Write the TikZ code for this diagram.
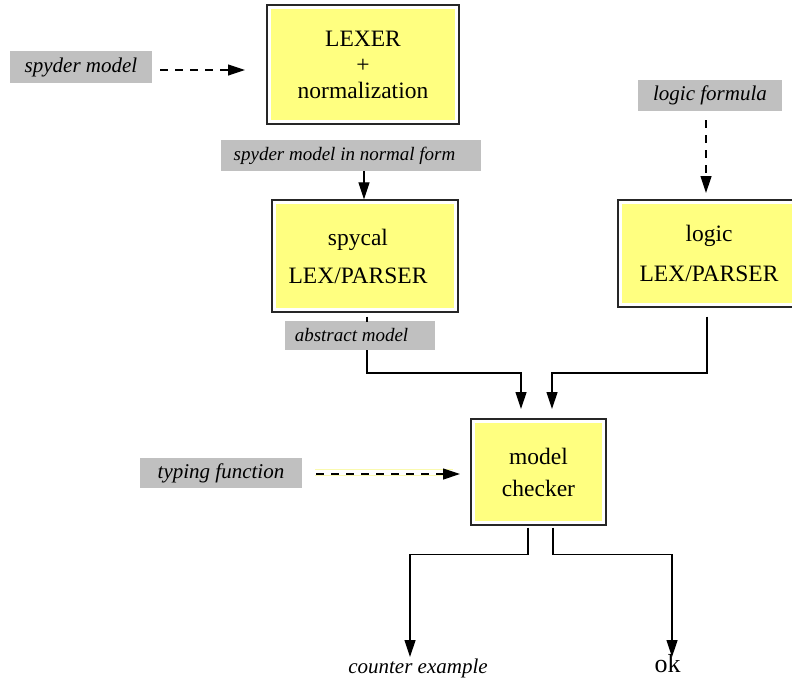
\documentclass[tikz,border=0pt]{standalone}
\usepackage{fontspec}
\setmainfont{Liberation Serif}
\usetikzlibrary{arrows.meta}
\definecolor{boxyellow}{RGB}{255,255,128}
\definecolor{labelgray}{RGB}{192,192,192}
\definecolor{paleyellow}{RGB}{250,250,175}

\begin{document}
\begin{tikzpicture}[x=1pt,y=-1pt,
  stagebox/.style={draw=black!85, line width=1.3pt, fill=white, inner sep=0pt,
    align=center, font=\fontsize{23.5}{26}\selectfont,
    path picture={\fill[boxyellow]
      ([shift={(4pt,4pt)}]path picture bounding box.south west) rectangle
      ([shift={(-4pt,-4pt)}]path picture bounding box.north east);}},
  graylabel/.style={fill=labelgray, inner sep=0pt,
    font=\fontsize{21}{24}\selectfont\itshape},
  smalllabel/.style={graylabel, font=\fontsize{19}{22}\selectfont\itshape},
  flow/.style={line width=1.2pt, -{Triangle[length=17pt,width=11pt]}},
  plain/.style={line width=1.2pt},
  dflow/.style={flow, dash pattern=on 8pt off 7pt}
]
\useasboundingbox (0,0) rectangle (792,688);

% processing stages
\node[stagebox, minimum width=192pt, minimum height=119pt] (lexer) at (363,64.5)
  {LEXER\\+\\normalization};
\node[stagebox, minimum width=186pt, minimum height=112pt] (spycal) at (365,256)
  {spycal\hspace*{14pt}\\[12pt]LEX/PARSER\hspace*{14pt}};
\node[stagebox, minimum width=182pt, minimum height=107pt] (logic) at (709,253.5)
  {logic\\[14pt]LEX/PARSER};
\node[stagebox, minimum width=135pt, minimum height=106pt] (mc) at (538.5,472)
  {model\\[6pt]checker};

% data labels
\node[graylabel, minimum width=142pt, minimum height=32pt] (g1) at (81,67) {spyder model};
\node[smalllabel, minimum width=260pt, minimum height=31pt]
  (g2) at (351,155.5) {spyder model in normal form\hspace*{13pt}};
\node[graylabel, minimum width=144pt, minimum height=31pt] (g3) at (710,95.5) {logic formula};
\node[smalllabel, minimum width=150pt, minimum height=29pt]
  (g4) at (360,335.5) {abstract model\hspace*{17pt}};
\node[graylabel, minimum width=162pt, minimum height=30pt] (g5) at (221,473) {typing function};

% outputs
\node[font=\fontsize{21}{24}\selectfont\itshape] (ce) at (418,668) {counter example};
\node[font=\fontsize{26}{30}\selectfont] (ok) at (667.5,664) {ok};

% arrow end points
\coordinate (lexin) at (245,70);
\coordinate (login) at (706,193);
\coordinate (mcside) at (460,474);
\coordinate (mcinL) at (521,409);
\coordinate (mcinR) at (552,409);
\coordinate (jR) at (552,373);
\coordinate (ceIn) at (410,657);
\coordinate (okIn) at (672,657);

% inputs
\draw[dflow] (g1.east |- lexin) ++(8,0) -- (lexin);
\draw[dflow] (login |- g3.south) ++(0,9) -- (login);
\draw[paleyellow, line width=0.7pt] (315,469) -- (453,469) (315,475.5) -- (453,475.5);
\draw[dflow] (g5.east |- mcside) ++(14,0) -- (mcside);

% main chain
\draw[plain] (lexer.south) ++(1,0) -- (lexer.south -| 364,0 |- g2.north);
\draw[flow] (364,171) -- (spycal.north -| 364,0);
\draw[plain] (spycal.south) ++(2,4) -- ++(0,5);
\draw[flow] (367,350) -- ++(0,23) -| (mcinL);
\path (logic.south) ++(-2,9) coordinate (lgout);
\draw[flow] (lgout) |- (jR) -- (mcinR);

% results
\path (mc.south) ++(-10.5,2) coordinate (mco1);
\path (mc.south) ++(14.5,2) coordinate (mco2);
\draw[flow] (mco1) -- ++(0,27) -| (ceIn);
\draw[flow] (mco2) -- ++(0,27) -| (okIn);
\end{tikzpicture}
\end{document}
